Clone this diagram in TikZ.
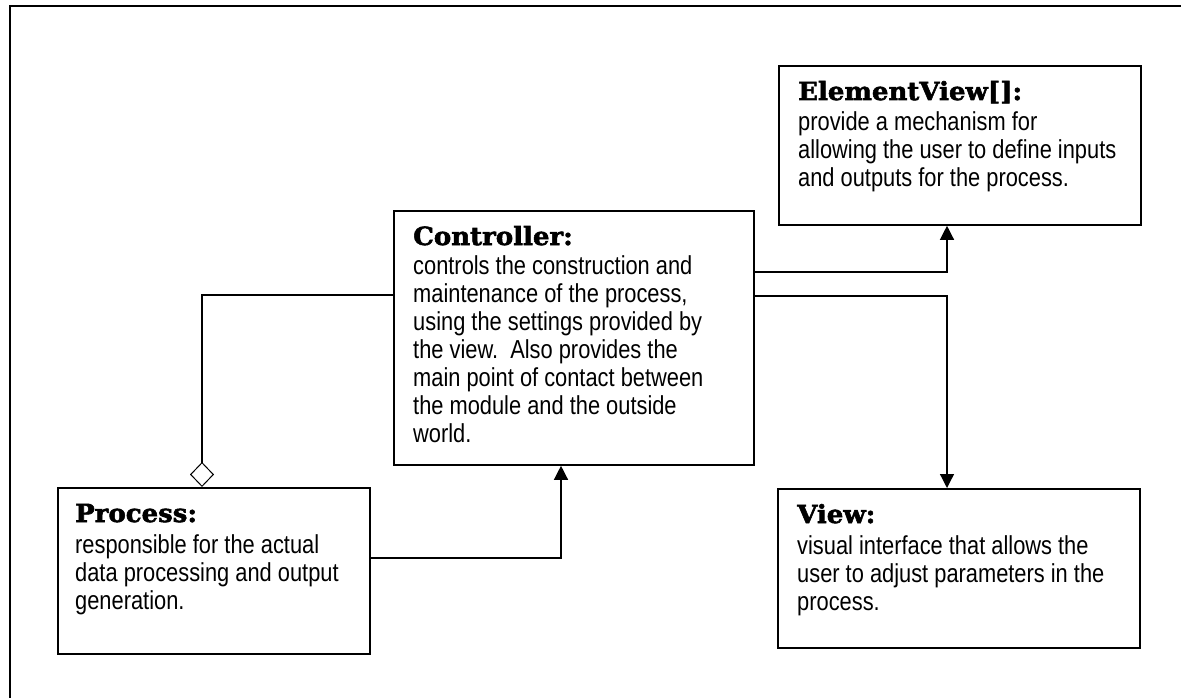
\documentclass[tikz,border=0pt]{standalone}
\usepackage{fontspec}
\newfontfamily\bodyfont[FakeStretch=0.84]{Liberation Sans}
\newfontfamily\headfont[FakeStretch=1.04,BoldFeatures={FakeBold=2.2}]{DejaVu Serif}
\usetikzlibrary{arrows.meta}
\begin{document}
\begin{tikzpicture}[x=1pt,y=-1pt,
  box/.style={draw, line width=1.8pt, anchor=north west, inner sep=0pt, fill=white},
  title/.style={anchor=base west, inner sep=0pt, font=\headfont\bfseries\fontsize{25}{28}\selectfont},
  body/.style={anchor=base west, inner sep=0pt, font=\bodyfont\fontsize{26}{28}\selectfont},
  link/.style={line width=1.3pt},
  arr/.style={link, -{Triangle[width=14pt,length=14pt]}},
  agg/.style={link, {Diamond[open,width=24pt,length=25pt,line width=1pt]}-}]
\useasboundingbox (0,0) rectangle (1181,698);
\clip (0,0) rectangle (1181,698);

% page frame (only its top and left edges fall inside the picture)
\draw[line width=1.8pt] (10,720) -- (10,6) -- (1200,6);

% boxes
\node[box, minimum width=362pt, minimum height=159pt] (ev)   at (778,65)  {};
\node[box, minimum width=360pt, minimum height=254pt] (ctrl) at (393,210) {};
\node[box, minimum width=312pt, minimum height=166pt] (proc) at (57,487)  {};
\node[box, minimum width=362pt, minimum height=159pt] (view) at (777,488) {};

% box texts
\node[title] (evT) at (798,100) {ElementView[]:};
\node[body]  (evB) at (798,131) {\parbox[t]{400pt}{provide a mechanism for\\
allowing the user to define inputs\\
and outputs for the process.}};

\node[title] (ctrlT) at (413,245) {Controller:};
\node[body]  (ctrlB) at (413,274) {\parbox[t]{400pt}{controls the construction and\\
maintenance of the process,\\
using the settings provided by\\
the view.\ \ Also provides the\\
main point of contact between\\
the module and the outside\\
world.}};

\node[title] (procT) at (75,522) {Process:};
\node[body]  (procB) at (75,553) {\parbox[t]{400pt}{responsible for the actual\\
data processing and output\\
generation.}};

\node[title] (viewT) at (797,523) {View:};
\node[body]  (viewB) at (797,554) {\parbox[t]{400pt}{visual interface that allows the\\
user to adjust parameters in the\\
process.}};

% routing points for the connectors
\coordinate (rx) at (947,0);
\coordinate (evY) at (0,272);
\coordinate (viewY) at (0,296);
\coordinate (px) at (561,0);
\coordinate (pY) at (0,558);
\coordinate (dx) at (202,0);
\coordinate (dY) at (0,295);

% connectors
\draw[arr] (ctrl.east |- evY) -| (ev.south -| rx);
\draw[arr] (ctrl.east |- viewY) -| (view.north -| rx);
\draw[arr] (proc.east |- pY) -| (ctrl.south -| px);
\draw[agg] (proc.north -| dx) |- (ctrl.west |- dY);
\end{tikzpicture}
\end{document}
